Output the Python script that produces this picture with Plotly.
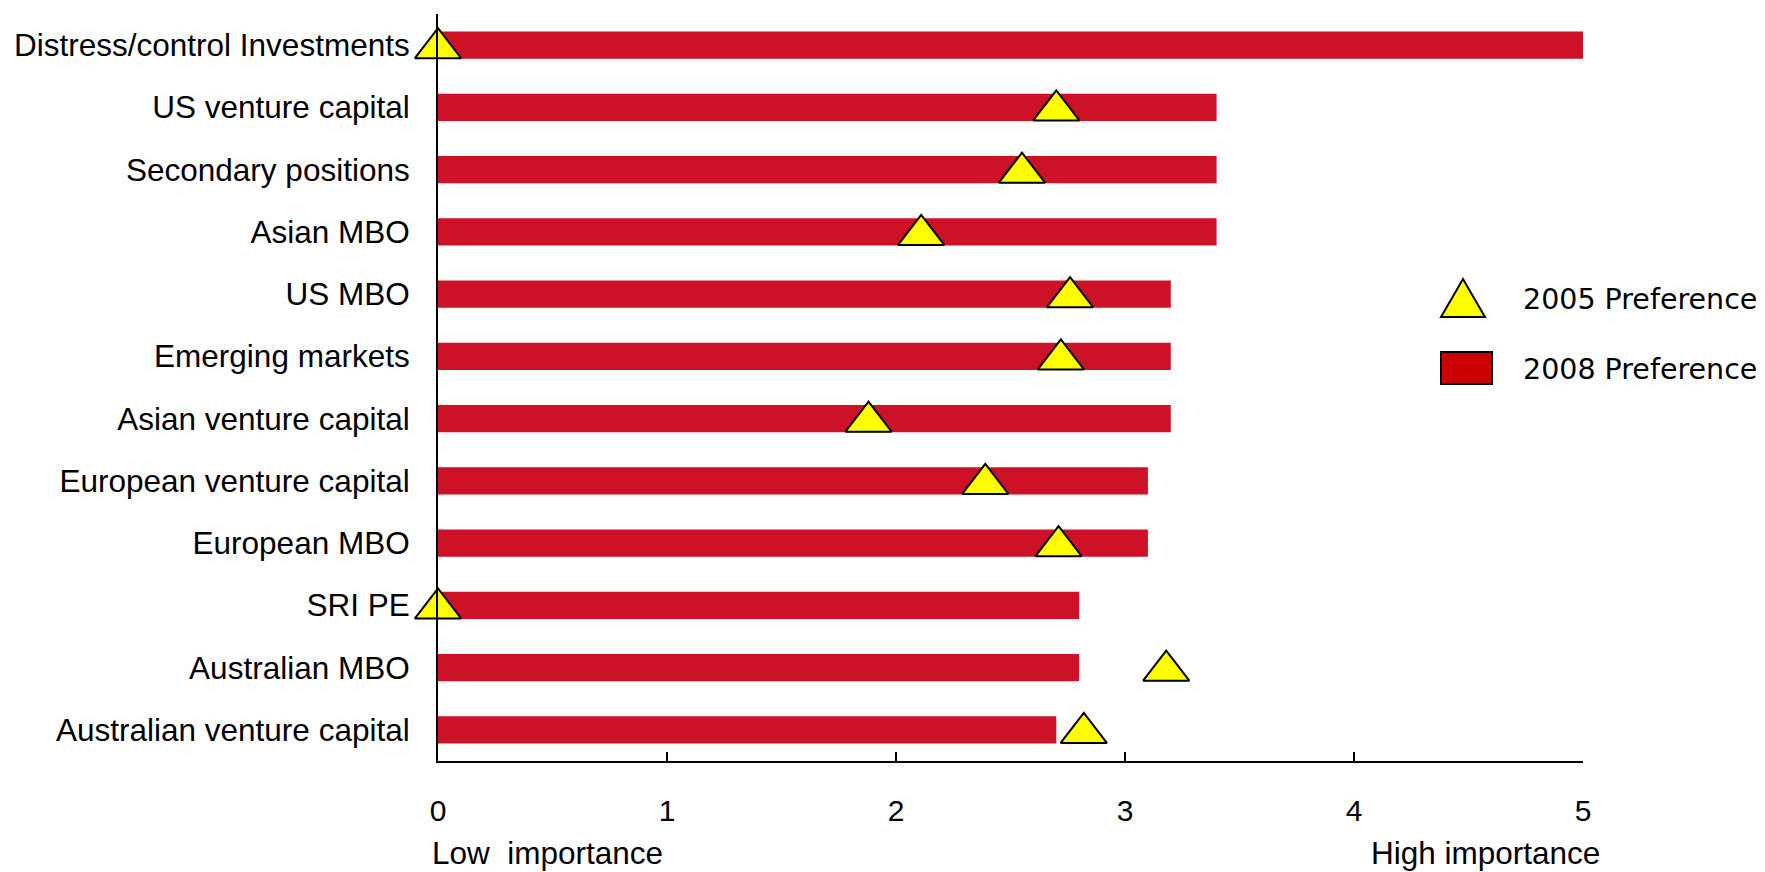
import plotly.graph_objects as go

# Investment categories, top to bottom
categories = [
    "Distress/control Investments",
    "US venture capital",
    "Secondary positions",
    "Asian MBO",
    "US MBO",
    "Emerging markets",
    "Asian venture capital",
    "European venture capital",
    "European MBO",
    "SRI PE",
    "Australian MBO",
    "Australian venture capital",
]

# Importance scores (0 = low, 5 = high)
pref_2008 = [5.0, 3.4, 3.4, 3.4, 3.2, 3.2, 3.2, 3.1, 3.1, 2.8, 2.8, 2.7]
pref_2005 = [0.0, 2.70, 2.55, 2.11, 2.76, 2.72, 1.88, 2.39, 2.71, 0.0, 3.18, 2.82]

x_ticks = [0, 1, 2, 3, 4, 5]

BAR_RED = "#CD1228"
TRI_YELLOW = "#FFFF00"
TEXT_FONT = "Liberation Sans, Arial, sans-serif"
LEGEND_FONT = "DejaVu Sans, sans-serif"

W, H = 1765, 872
M_L, M_R, M_T, M_B = 438, 182, 14, 111
PLOT_W = W - M_L - M_R
PLOT_H = H - M_T - M_B


def px_x(px):
    return (px - M_L) / PLOT_W


def px_y(py):
    return (H - M_B - py) / PLOT_H


n = len(categories)
# small downward nudge so the triangles sit centred on the bars
nudge = 3.0 / (PLOT_H / n)

fig = go.Figure()

fig.add_trace(go.Bar(
    x=pref_2008,
    y=categories,
    orientation="h",
    width=0.44,
    marker=dict(color=BAR_RED, line=dict(width=0)),
    name="2008 Preference",
    showlegend=False,
    hoverinfo="x+y",
))

fig.add_trace(go.Scatter(
    x=pref_2005,
    y=categories,
    yaxis="y2",
    mode="markers",
    marker=dict(symbol="triangle-up", size=40, color=TRI_YELLOW,
                line=dict(color="black", width=2)),
    name="2005 Preference",
    showlegend=False,
    cliponaxis=False,
    hoverinfo="x+y",
))

fig.update_layout(
    width=W,
    height=H,
    margin=dict(l=M_L, r=M_R, t=M_T, b=M_B, pad=0),
    paper_bgcolor="white",
    plot_bgcolor="white",
    bargap=0.5,
    xaxis=dict(
        range=[0, 5],
        tickvals=x_ticks,
        ticktext=[str(t) for t in x_ticks],
        showgrid=False,
        zeroline=False,
        showline=True,
        linecolor="black",
        linewidth=2,
        ticks="inside",
        ticklen=9,
        tickwidth=2,
        tickcolor="black",
        ticklabelstandoff=22,
        tickfont=dict(family=TEXT_FONT, size=30, color="black"),
    ),
    yaxis=dict(
        type="category",
        categoryorder="array",
        categoryarray=categories,
        range=[n - 0.5, -0.5],
        showgrid=False,
        zeroline=False,
        showline=True,
        linecolor="black",
        linewidth=2,
        ticks="",
        ticklabelstandoff=20,
        tickfont=dict(family=TEXT_FONT, size=31.5, color="black"),
    ),
    yaxis2=dict(
        type="category",
        categoryorder="array",
        categoryarray=categories,
        range=[n - 0.5 - nudge, -0.5 - nudge],
        overlaying="y",
        visible=False,
    ),
)

# axis end captions
fig.add_annotation(text="Low  importance", xref="paper", yref="paper",
                   x=px_x(430), y=px_y(853), xanchor="left", yanchor="middle",
                   showarrow=False, font=dict(family=TEXT_FONT, size=31.5, color="black"))
fig.add_annotation(text="High importance", xref="paper", yref="paper",
                   x=px_x(1369), y=px_y(853), xanchor="left", yanchor="middle",
                   showarrow=False, font=dict(family=TEXT_FONT, size=31.5, color="black"))

# legend
tri_path = "M {:.5f},{:.5f} L {:.5f},{:.5f} L {:.5f},{:.5f} Z".format(
    px_x(1463), px_y(279), px_x(1441), px_y(317), px_x(1485), px_y(317))
fig.add_shape(type="path", path=tri_path, xref="paper", yref="paper",
              fillcolor=TRI_YELLOW, line=dict(color="black", width=2), layer="above")
fig.add_shape(type="rect", xref="paper", yref="paper",
              x0=px_x(1441), x1=px_x(1492), y0=px_y(384), y1=px_y(352),
              fillcolor="#CC0000", line=dict(color="black", width=2), layer="above")
fig.add_annotation(text="2005 Preference", xref="paper", yref="paper",
                   x=px_x(1521), y=px_y(299), xanchor="left", yanchor="middle",
                   showarrow=False, font=dict(family=LEGEND_FONT, size=28.5, color="black"))
fig.add_annotation(text="2008 Preference", xref="paper", yref="paper",
                   x=px_x(1521), y=px_y(369), xanchor="left", yanchor="middle",
                   showarrow=False, font=dict(family=LEGEND_FONT, size=28.5, color="black"))

fig.write_html("out.html")
